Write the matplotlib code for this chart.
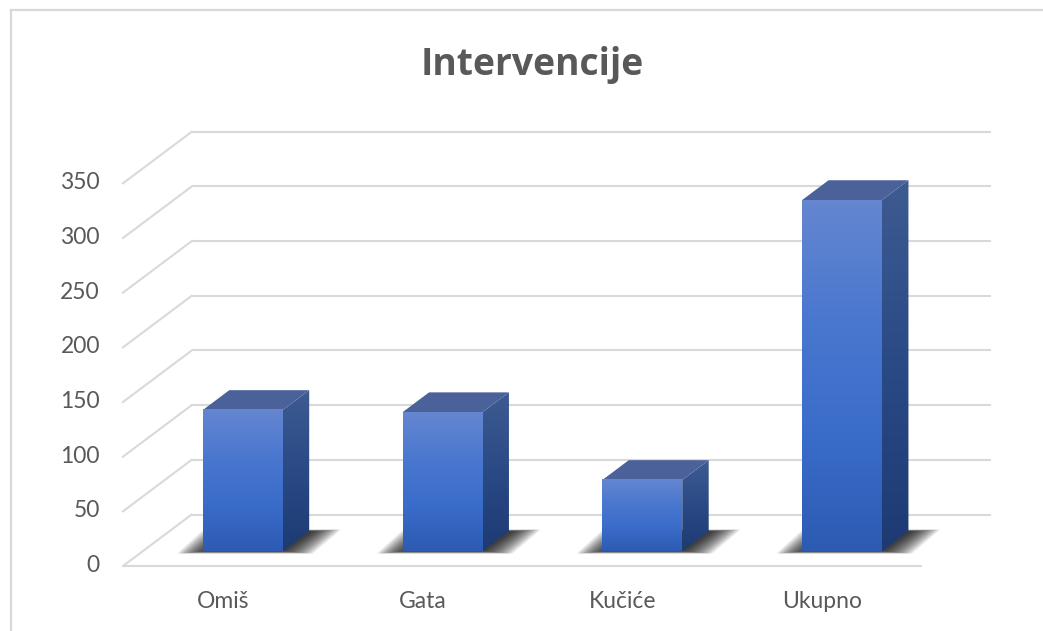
import matplotlib
matplotlib.use("Agg")
import matplotlib.pyplot as plt
import numpy as np
from matplotlib.colors import LinearSegmentedColormap
from matplotlib.patches import Polygon
from matplotlib.lines import Line2D

categories = ["Omiš", "Gata", "Kučiće", "Ukupno"]
values = [129, 127, 65, 321]
yticks = [0, 50, 100, 150, 200, 250, 300, 350]
title = "Intervencije"

W, H = 1043, 631
fig = plt.figure(figsize=(W / 100, H / 100), dpi=100)
fig.patch.set_facecolor("white")
ax = fig.add_axes([0, 0, 1, 1])

# pixel geometry of the front plane
x0px, y0px = 123, 566
pxu_x = 799 / 4.0
pxu_y = 382.7 / 350.0
ax.set_xlim((0 - x0px) / pxu_x, (W - x0px) / pxu_x)
ax.set_ylim((y0px - H) / pxu_y, y0px / pxu_y)
ax.axis("off")

n = len(categories)
dx = 68.7 / pxu_x
dy = 51.5 / pxu_y
grid_c = "#d9d9d9"
glw = 1.5

# back wall and side wall gridlines
for v in yticks:
    ax.plot([dx, n + dx], [v + dy, v + dy], color=grid_c, lw=glw, zorder=1,
            solid_capstyle="butt")
    ax.plot([0, dx], [v, v + dy], color=grid_c, lw=glw, zorder=1)
ax.plot([0, n], [0, 0], color=grid_c, lw=glw, zorder=1, solid_capstyle="butt")

# tick labels
tick_font = dict(family="Lato", fontsize=16.5, color="#595959")
for v in yticks:
    ax.text((100 - x0px) / pxu_x, v + 0.5, str(v), ha="right", va="center", **tick_font)
for i, c in enumerate(categories):
    ax.text(i + 0.5, (y0px - 601) / pxu_y, c, ha="center", va="center", **tick_font)

ax.text(n / 2 + (533 - 523) / pxu_x, (y0px - 75) / pxu_y, title, ha="center",
        va="baseline", family="Open Sans", fontweight="bold", fontsize=26.8, color="#595959")

front_cmap = LinearSegmentedColormap.from_list(
    "front", ["#2d5bb3", "#3a6cca", "#4a78cf", "#6586d1"])
side_cmap = LinearSegmentedColormap.from_list(
    "side", ["#1d3a73", "#2a4a86", "#3e5b91"])
top_c = "#4a6299"

f0, f1 = 0.29, 0.675
bw = 0.4
ddx = (f1 - f0) * dx
ddy = (f1 - f0) * dy
grad = np.linspace(0, 1, 256).reshape(-1, 1)

for i, v in enumerate(values):
    c = i + 0.5
    xl = c - bw / 2 + f0 * dx
    xr = c + bw / 2 + f0 * dx
    yb = f0 * dy
    yt = yb + v

    # soft shadow
    N = 18
    for k in range(N):
        t = k / (N - 1)
        ex = 0.01 + 0.14 * (1 - t)
        ey = 4.0 * (1 - t)
        poly = [(xl - ex + 0.02, yb - ey * 0.6), (xr + ex, yb - ey * 0.6),
                (xr + ddx + ex + 0.01, yb + ddy + ey * 0.4),
                (xl + ddx - ex + 0.02, yb + ddy + ey * 0.4)]
        ax.add_patch(Polygon(poly, closed=True, facecolor="black", edgecolor="none",
                             alpha=0.07, zorder=2))

    # side face
    side = Polygon([(xr, yb), (xr + ddx, yb + ddy), (xr + ddx, yt + ddy), (xr, yt)],
                   closed=True, facecolor="none", edgecolor="none", zorder=3)
    ax.add_patch(side)
    im = ax.imshow(grad, cmap=side_cmap, origin="lower", aspect="auto",
                   extent=[xr, xr + ddx, yb, yt + ddy], zorder=3, interpolation="bilinear")
    im.set_clip_path(side)

    # top face
    ax.add_patch(Polygon([(xl, yt), (xr, yt), (xr + ddx, yt + ddy), (xl + ddx, yt + ddy)],
                         closed=True, facecolor=top_c, edgecolor="none", zorder=4))

    # front face
    ax.imshow(grad, cmap=front_cmap, origin="lower", aspect="auto",
              extent=[xl, xr, yb, yt], zorder=5, interpolation="bilinear")

ax.set_xlim((0 - x0px) / pxu_x, (W - x0px) / pxu_x)
ax.set_ylim((y0px - H) / pxu_y, y0px / pxu_y)

# chart border (left and top visible)
fig.add_artist(Line2D([11 / W, 11 / W], [0, 1 - 10 / H], color=grid_c, lw=1.6))
fig.add_artist(Line2D([11 / W, 1], [1 - 10 / H, 1 - 10 / H], color=grid_c, lw=1.6))

fig.savefig("out.png", dpi=100, facecolor="white")
